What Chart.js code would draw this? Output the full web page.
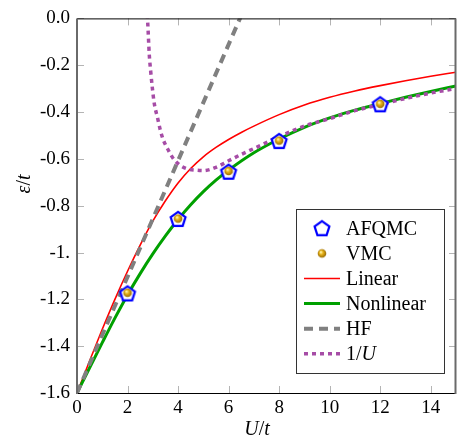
<!DOCTYPE html>
<html>
<head>
<meta charset="utf-8">
<script src="https://cdn.jsdelivr.net/npm/chart.js@4"></script>
<style>
  html, body { margin: 0; padding: 0; background: #fff; }
</style>
</head>
<body>
<canvas id="chart" width="457" height="447"></canvas>
<script>
// QMC points (U/t, energy)
const qmcU = [2, 4, 6, 8, 12];
const afqmcE = [-1.175, -0.857, -0.655, -0.524, -0.367];
const vmcE = [-1.172, -0.855, -0.652, -0.522, -0.365];

// curves
const linearU = [0, 0.5, 1, 1.5, 2, 2.5, 3, 3.5, 4, 4.5, 5, 5.5, 6, 6.5, 7, 8, 9, 10, 11, 12, 13, 14, 15];
const linearE = [-1.6, -1.462, -1.328, -1.2, -1.08, -0.968, -0.866, -0.779, -0.703, -0.641, -0.591, -0.551, -0.517, -0.487, -0.46, -0.411, -0.37, -0.337, -0.31, -0.287, -0.266, -0.247, -0.23];

const nonlinearU = [0, 0.5, 1, 1.5, 2, 2.5, 3, 3.5, 4, 4.5, 5, 5.5, 6, 7, 8, 9, 10, 11, 12, 13, 14, 15];
const nonlinearE = [-1.6, -1.492, -1.385, -1.28, -1.181, -1.09, -1.006, -0.929, -0.859, -0.796, -0.74, -0.691, -0.648, -0.574, -0.515, -0.465, -0.425, -0.392, -0.364, -0.337, -0.312, -0.289];

const hfU = [0, 6.45, 7];
const hfE = [-1.6, 0, 0.14];

const invU = [2.76, 2.8, 2.86, 2.92, 2.98, 3.06, 3.18, 3.3, 3.42, 3.6, 3.8, 4.05, 4.35, 4.7, 5.0, 5.5, 6.0, 6.5, 7, 8, 9, 10, 11, 12, 13, 14, 15];
const invE = [0.05, -0.02, -0.154, -0.23, -0.295, -0.365, -0.421, -0.478, -0.52, -0.56, -0.597, -0.625, -0.642, -0.648, -0.65, -0.636, -0.608, -0.581, -0.556, -0.505, -0.46, -0.428, -0.394, -0.368, -0.342, -0.319, -0.299];

// ticks
const xTickValues = [0, 2, 4, 6, 8, 10, 12, 14];
const xTickLabels = ['0', '2', '4', '6', '8', '10', '12', '14'];
const yTickValues = [0, -0.2, -0.4, -0.6, -0.8, -1, -1.2, -1.4, -1.6];
const yTickLabels = ['0.0', '-0.2', '-0.4', '-0.6', '-0.8', '-1.', '-1.2', '-1.4', '-1.6'];

const SERIF = "'Liberation Serif', 'Times New Roman', serif";

function pts(xs, ys) {
    return xs.map((x, i) => ({x: x, y: ys[i]}));
}

// marker images
function makePentagon() {
    const c = document.createElement('canvas');
    c.width = 22; c.height = 22;
    const g = c.getContext('2d');
    const r = 7.8;
    g.beginPath();
    for (let i = 0; i < 5; i++) {
        const a = (-90 + 72 * i) * Math.PI / 180;
        const px = 11 + r * Math.cos(a), py = 11.6 + r * Math.sin(a);
        if (i === 0) g.moveTo(px, py); else g.lineTo(px, py);
    }
    g.closePath();
    g.fillStyle = '#fff';
    g.fill();
    g.lineWidth = 2.2;
    g.strokeStyle = '#0000ff';
    g.stroke();
    return c;
}

function makeBall() {
    const c = document.createElement('canvas');
    c.width = 12; c.height = 12;
    const g = c.getContext('2d');
    const grad = g.createRadialGradient(4.8, 4.6, 0.5, 6, 6, 4.6);
    grad.addColorStop(0, '#fff4a8');
    grad.addColorStop(0.35, '#e8b41a');
    grad.addColorStop(1, '#8f6200');
    g.beginPath();
    g.arc(6, 6, 4.3, 0, Math.PI * 2);
    g.fillStyle = grad;
    g.fill();
    return c;
}

const pentagonImg = makePentagon();
const ballImg = makeBall();

const legendItems = [
    {label: [['AFQMC', false]], kind: 'pent'},
    {label: [['VMC', false]], kind: 'ball'},
    {label: [['Linear', false]], kind: 'line', color: '#ff0000', width: 1.6, dash: []},
    {label: [['Nonlinear', false]], kind: 'line', color: '#00a000', width: 3, dash: []},
    {label: [['HF', false]], kind: 'line', color: '#808080', width: 4, dash: [9, 6]},
    {label: [['1/', false], ['U', true]], kind: 'line', color: '#a64ca6', width: 3.5, dash: [4, 4]},
];

function drawMixed(ctx, parts, x, y, size, align) {
    let total = 0;
    const widths = parts.map(p => {
        ctx.font = (p[1] ? 'italic ' : '') + size + 'px ' + SERIF;
        const w = ctx.measureText(p[0]).width;
        total += w;
        return w;
    });
    let cx = align === 'center' ? x - total / 2 : x;
    parts.forEach((p, i) => {
        ctx.font = (p[1] ? 'italic ' : '') + size + 'px ' + SERIF;
        ctx.fillText(p[0], cx, y);
        cx += widths[i];
    });
}

const framePlugin = {
    id: 'frame',
    beforeDatasetsDraw(chart) {
        const {ctx, chartArea: a, scales} = chart;
        ctx.save();
        ctx.strokeStyle = '#b4b4b4';
        ctx.lineWidth = 1;
        ctx.beginPath();
        xTickValues.forEach(v => {
            const px = Math.round(scales.x.getPixelForValue(v)) + 0.5;
            ctx.moveTo(px, a.bottom); ctx.lineTo(px, a.bottom - 7);
            ctx.moveTo(px, a.top); ctx.lineTo(px, a.top + 7);
        });
        yTickValues.forEach(v => {
            const py = Math.round(scales.y.getPixelForValue(v)) + 0.5;
            ctx.moveTo(a.left, py); ctx.lineTo(a.left + 7, py);
            ctx.moveTo(a.right, py); ctx.lineTo(a.right - 7, py);
        });
        ctx.stroke();
        ctx.restore();
    },
    afterDraw(chart) {
        const {ctx, chartArea: a} = chart;
        ctx.save();
        // frame
        ctx.lineWidth = 1;
        ctx.strokeStyle = '#000';
        ctx.beginPath();
        ctx.moveTo(a.left, a.top + 0.5); ctx.lineTo(a.right, a.top + 0.5);
        ctx.moveTo(a.left, a.bottom + 0.5); ctx.lineTo(a.right, a.bottom + 0.5);
        ctx.stroke();
        ctx.strokeStyle = '#6a6a6a';
        ctx.lineWidth = 2;
        ctx.beginPath();
        ctx.moveTo(a.left, a.top); ctx.lineTo(a.left, a.bottom + 1);
        ctx.moveTo(a.right - 0.5, a.top); ctx.lineTo(a.right - 0.5, a.bottom + 1);
        ctx.stroke();

        // legend
        const bx = 296, by = 209, bw = 148, bh = 164;
        ctx.fillStyle = '#fff';
        ctx.fillRect(bx, by, bw, bh);
        ctx.strokeStyle = '#333';
        ctx.lineWidth = 1;
        ctx.strokeRect(bx + 0.5, by + 0.5, bw, bh);
        ctx.fillStyle = '#000';
        ctx.textBaseline = 'middle';
        ctx.textAlign = 'left';
        legendItems.forEach((it, i) => {
            const cy = 228.3 + i * 25.1;
            if (it.kind === 'pent') {
                ctx.drawImage(pentagonImg, 322 - 11, cy - 11);
            } else if (it.kind === 'ball') {
                ctx.drawImage(ballImg, 322 - 6, cy - 6);
            } else {
                ctx.beginPath();
                ctx.setLineDash(it.dash);
                ctx.strokeStyle = it.color;
                ctx.lineWidth = it.width;
                ctx.moveTo(304, cy); ctx.lineTo(340, cy);
                ctx.stroke();
                ctx.setLineDash([]);
            }
            ctx.fillStyle = '#000';
            drawMixed(ctx, it.label, 346, cy + 1, 20, 'left');
        });

        // axis titles
        ctx.textBaseline = 'alphabetic';
        drawMixed(ctx, [['U', true], ['/', false], ['t', true]], 257, 435, 20, 'center');
        ctx.translate(30, 184);
        ctx.rotate(-Math.PI / 2);
        drawMixed(ctx, [['ε', true], ['/', false], ['t', true]], 0, 0, 20, 'center');
        ctx.restore();
    }
};

const lineBase = {pointRadius: 0, fill: false, clip: 0, cubicInterpolationMode: 'monotone', borderCapStyle: 'butt'};

new Chart(document.getElementById('chart'), {
    type: 'line',
    data: {
        datasets: [
            {label: 'VMC', data: pts(qmcU, vmcE), showLine: false, pointStyle: ballImg, order: 0, pointRadius: 5},
            {label: 'AFQMC', data: pts(qmcU, afqmcE), showLine: false, pointStyle: pentagonImg, order: 1, pointRadius: 10},
            Object.assign({label: '1/U', data: pts(invU, invE), borderColor: '#a64ca6', borderWidth: 3.5, borderDash: [4, 4], order: 2}, lineBase),
            Object.assign({label: 'HF', data: pts(hfU, hfE), borderColor: '#808080', borderWidth: 4, borderDash: [9, 6], order: 3}, lineBase, {cubicInterpolationMode: 'default', tension: 0}),
            Object.assign({label: 'Nonlinear', data: pts(nonlinearU, nonlinearE), borderColor: '#00a000', borderWidth: 3, order: 4}, lineBase),
            Object.assign({label: 'Linear', data: pts(linearU, linearE), borderColor: '#ff0000', borderWidth: 1.6, order: 5}, lineBase),
        ]
    },
    options: {
        responsive: false,
        animation: false,
        layout: {autoPadding: false, padding: {top: 13, right: 1, left: 0, bottom: 0}},
        plugins: {legend: {display: false}, tooltip: {enabled: false}},
        scales: {
            x: {
                type: 'linear', min: 0, max: 15,
                afterBuildTicks(scale) { scale.ticks = xTickValues.map(v => ({value: v})); },
                afterFit(scale) { scale.height = 54; },
                grid: {display: false, drawTicks: false},
                border: {display: false},
                ticks: {
                    padding: 4, color: '#000', maxRotation: 0, autoSkip: false,
                    font: {family: SERIF, size: 19},
                    callback: (v, i) => xTickLabels[i]
                }
            },
            y: {
                type: 'linear', min: -1.6, max: 0,
                afterBuildTicks(scale) { scale.ticks = yTickValues.map(v => ({value: v})); },
                afterFit(scale) { scale.width = 77; },
                grid: {display: false, drawTicks: false},
                border: {display: false},
                ticks: {
                    padding: 7, color: '#000', autoSkip: false,
                    font: {family: SERIF, size: 19},
                    callback: (v, i) => yTickLabels[i]
                }
            }
        }
    },
    plugins: [framePlugin]
});
</script>
</body>
</html>
